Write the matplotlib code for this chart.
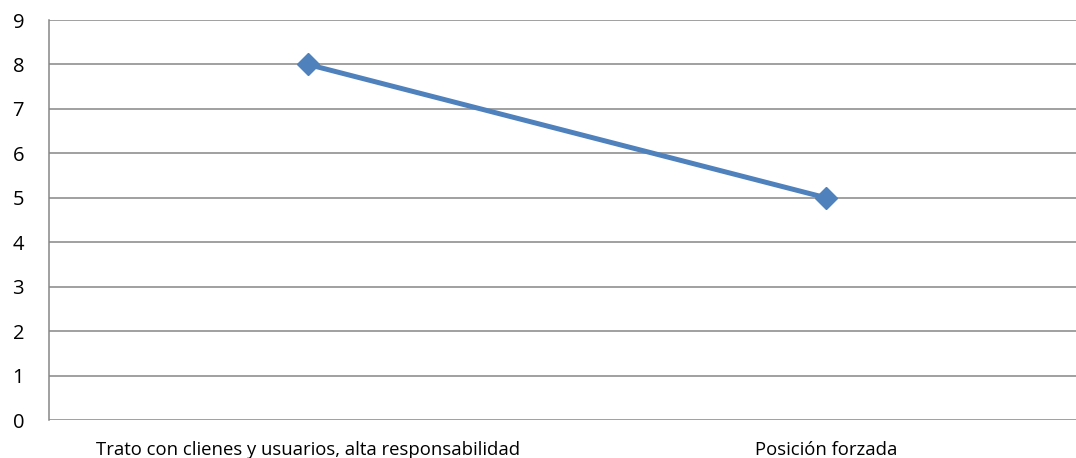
import matplotlib.pyplot as plt

# data
categories = ['Trato con clienes y usuarios, alta responsabilidad', 'Posición forzada']
values = [8, 5]
y_ticks = list(range(0, 10))

plt.rcParams['font.family'] = ['Open Sans', 'DejaVu Sans']

fig = plt.figure(figsize=(10.76, 4.58), dpi=100)
ax = fig.add_axes([49 / 1076, 38 / 458, 1036 / 1076, 400 / 458])

x = list(range(len(categories)))
ax.plot(x, values, color='#4F81BD', linewidth=3.6, marker='D', markersize=11,
        markeredgecolor='#4F81BD', zorder=3, clip_on=False)

ax.set_xlim(-0.5, len(categories) - 0.5)
ax.set_ylim(0, 9)
ax.set_yticks(y_ticks)
ax.set_yticklabels([str(v) for v in y_ticks], fontsize=14.5)
ax.set_xticks(x)
ax.set_xticklabels(categories, fontsize=13.3)
ax.tick_params(axis='both', length=0)
ax.tick_params(axis='y', pad=18)
ax.tick_params(axis='x', pad=15)

ax.grid(axis='y', color='#868686', linewidth=1.1)
ax.set_axisbelow(True)
for side in ['top', 'right', 'bottom']:
    ax.spines[side].set_visible(False)
ax.spines['left'].set_color('#868686')
ax.spines['left'].set_linewidth(1.1)

fig.savefig('out.png', dpi=100)
